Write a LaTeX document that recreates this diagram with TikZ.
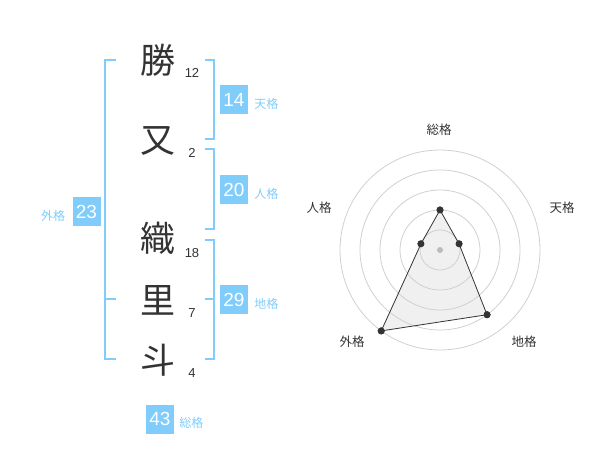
\documentclass[tikz,border=0pt]{standalone}
\usepackage{fontspec}
\setmainfont{Liberation Sans}
\newfontfamily\jp{Noto Sans CJK JP}
\usetikzlibrary{positioning}
\definecolor{kaku}{RGB}{128,204,250}
\definecolor{ink}{RGB}{51,51,51}
\definecolor{ring}{RGB}{208,208,208}
\definecolor{area}{RGB}{240,240,240}

\begin{document}
\begin{tikzpicture}[x=1pt, y=-1pt]
      % Node style
      \tikzset{
        kanji/.style={inner sep=0pt, text=ink, font=\jp\fontsize{35}{35}\selectfont},
        strokes/.style={inner sep=0pt, text=ink, font=\fontsize{13}{13}\selectfont},
        kakubox/.style={fill=kaku, text=white, minimum width=28pt, minimum height=29pt, inner sep=0pt, font=\fontsize{19}{19}\selectfont},
        kakulbl/.style={inner sep=0pt, text=kaku, font=\jp\fontsize{12}{12}\selectfont, yshift=-3.5pt},
        bracket/.style={draw=kaku, line width=2pt},
        axislbl/.style={inner sep=0pt, text=ink, font=\jp\fontsize{12.5}{12.5}\selectfont},
        dot/.style={circle, fill=ink, inner sep=0pt, minimum size=7pt},
      }
      \useasboundingbox (0,0) rectangle (600,470);
      % Name
      \node (c1) [kanji] at (158,60) {勝};
      \node (c2) [kanji] at (158,141) {又};
      \node (c3) [kanji] at (158,238) {織};
      \node (c4) [kanji] at (158,300) {里};
      \node (c5) [kanji] at (158,360) {斗};
      \node (n1) [strokes] at (192,73) {12};
      \node (n2) [strokes] at (192,153) {2};
      \node (n3) [strokes] at (192,253) {18};
      \node (n4) [strokes] at (192,313) {7};
      \node (n5) [strokes] at (192,373) {4};
      % Brackets
      \coordinate (tenA) at (205,60);  \coordinate (tenB) at (205,139);
      \coordinate (jinA) at (205,149); \coordinate (jinB) at (205,229);
      \coordinate (chiA) at (205,240); \coordinate (chiB) at (205,359);
      \coordinate (chiM) at (205,299);
      \coordinate (gaiA) at (116,60);  \coordinate (gaiB) at (116,359);
      \coordinate (gaiM) at (116,299);
      \draw[bracket] (tenA) -- ++(9,0) |- (tenB);
      \draw[bracket] (jinA) -- ++(9,0) |- (jinB);
      \draw[bracket] (chiA) -- ++(9,0) |- (chiB);
      \draw[bracket] (chiM) -- ++(9,0);
      \draw[bracket] (gaiA) -- ++(-11,0) |- (gaiB);
      \draw[bracket] (gaiM) -- ++(-11,0);
      % Scores
      \node (ten) [kakubox] at (234,100) {14};
      \node (jin) [kakubox] at (234,190) {20};
      \node (chi) [kakubox] at (234,300) {29};
      \node (gai) [kakubox] at (86.5,212) {23};
      \node (sou) [kakubox] at (160,419) {43};
      \node (tenlbl) [kakulbl, right=6pt of ten] {天格};
      \node (jinlbl) [kakulbl, right=6pt of jin] {人格};
      \node (chilbl) [kakulbl, right=6pt of chi] {地格};
      \node (gailbl) [kakulbl, left=7pt of gai] {外格};
      \node (soulbl) [kakulbl, right=5pt of sou] {総格};
      % Radar
      \begin{scope}[shift={(440,250)}]
        \coordinate (ctr) at (0,0);
        \node (pSou) [dot] at (90:40pt) {};
        \node (pTen) [dot] at (18:20pt) {};
        \node (pChi) [dot] at (-54:80pt) {};
        \node (pGai) [dot] at (-126:100pt) {};
        \node (pJin) [dot] at (162:20pt) {};
        \fill[area] (pSou.center) -- (pTen.center) -- (pChi.center) -- (pGai.center) -- (pJin.center) -- cycle;
        \draw[ring, line width=0.8pt] (ctr) circle (20pt);
        \draw[ring, line width=0.8pt] (ctr) circle (40pt);
        \draw[ring, line width=0.8pt] (ctr) circle (60pt);
        \draw[ring, line width=0.8pt] (ctr) circle (80pt);
        \draw[ring, line width=0.8pt] (ctr) circle (100pt);
        \fill[ring!90!black] (ctr) circle (3pt);
        \draw[ink, line width=0.8pt] (pSou.center) -- (pTen.center) -- (pChi.center) -- (pGai.center) -- (pJin.center) -- cycle;
        \node[dot] at (pSou) {};
        \node[dot] at (pTen) {};
        \node[dot] at (pChi) {};
        \node[dot] at (pGai) {};
        \node[dot] at (pJin) {};
      \end{scope}
      \node (aSou) [axislbl] at (439,130) {総格};
      \node (aTen) [axislbl] at (562,208) {天格};
      \node (aJin) [axislbl] at (319,208) {人格};
      \node (aGai) [axislbl] at (352,342) {外格};
      \node (aChi) [axislbl] at (524,342) {地格};
    \end{tikzpicture}
\end{document}
